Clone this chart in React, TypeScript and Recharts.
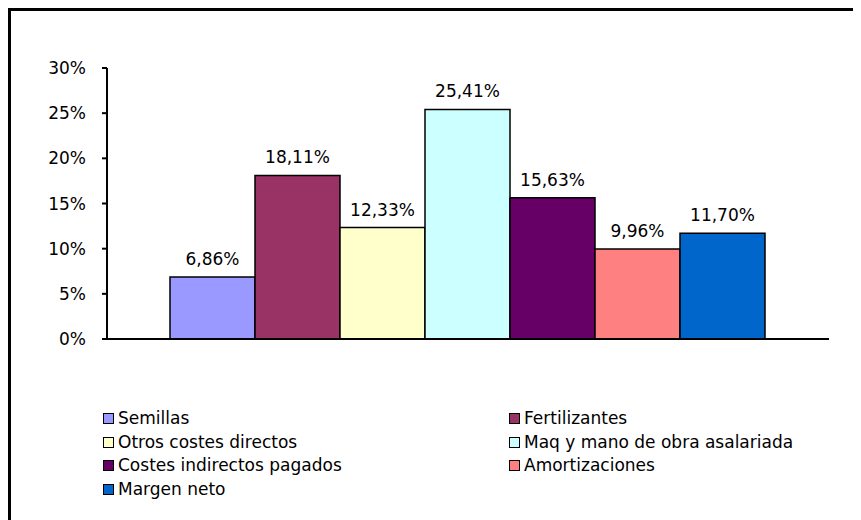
import React from 'react';
import { BarChart, Bar, XAxis, YAxis, Legend, LabelList } from 'recharts';

const series = [
  'Semillas',
  'Fertilizantes',
  'Otros costes directos',
  'Maq y mano de obra asalariada',
  'Costes indirectos pagados',
  'Amortizaciones',
  'Margen neto',
];
const values = [6.86, 18.11, 12.33, 25.41, 15.63, 9.96, 11.7];
const colors = ['#9999FF', '#993366', '#FFFFCC', '#CCFFFF', '#660066', '#FF8080', '#0066CC'];
const yTicks = [0, 5, 10, 15, 20, 25, 30];

const row: Record<string, number | string> = { name: 'total' };
series.forEach((s, i) => {
  row[s] = values[i];
});
const data = [row];

const FONT = '"DejaVu Sans", Verdana, sans-serif';

const fmt = (v: number) => v.toFixed(2).replace('.', ',') + '%';

function LegendGrid() {
  return (
    <div
      style={{
        display: 'grid',
        gridTemplateColumns: '406px 320px',
        fontFamily: FONT,
        fontSize: 17,
        color: '#000',
        lineHeight: '23.5px',
      }}
    >
      {series.map((s, i) => (
        <div key={s} style={{ display: 'flex', alignItems: 'center', whiteSpace: 'nowrap' }}>
          <span
            style={{
              display: 'inline-block',
              width: 9,
              height: 9,
              background: colors[i],
              border: '1.5px solid #000',
              marginRight: 4,
            }}
          />
          <span>{s}</span>
        </div>
      ))}
    </div>
  );
}

export default function App() {
  return (
    <div
      style={{
        width: 860,
        height: 520,
        borderTop: '3px solid #000',
        borderLeft: '3px solid #000',
        background: '#fff',
        boxSizing: 'border-box',
      }}
    >
      <BarChart
        width={845}
        height={505}
        data={data}
        margin={{ top: 57, right: 27, left: 36, bottom: 176 }}
        barCategoryGap={63}
        barGap={0}
      >
        <XAxis
          dataKey="name"
          height={1}
          tick={false}
          tickLine={false}
          axisLine={{ stroke: '#000', strokeWidth: 2 }}
        />
        <YAxis
          width={60}
          domain={[0, 30]}
          ticks={yTicks}
          interval={0}
          tickFormatter={(v: number) => `${v}%`}
          tickSize={5}
          tickMargin={16}
          axisLine={{ stroke: '#000', strokeWidth: 2 }}
          tickLine={{ stroke: '#000', strokeWidth: 2 }}
          tick={{ fill: '#000', fontSize: 17, fontFamily: FONT }}
        />
        <Legend
          layout="vertical"
          align="center"
          verticalAlign="middle"
          content={<LegendGrid />}
          wrapperStyle={{ left: 92, top: 396, width: 740 }}
        />
        {series.map((s, i) => (
          <Bar
            key={s}
            dataKey={s}
            fill={colors[i]}
            stroke="#000"
            strokeWidth={1.5}
            isAnimationActive={false}
          >
            <LabelList
              dataKey={s}
              position="top"
              offset={12}
              formatter={(v: number) => fmt(v)}
              style={{ fill: '#000', fontSize: 17, fontFamily: FONT }}
            />
          </Bar>
        ))}
      </BarChart>
    </div>
  );
}
